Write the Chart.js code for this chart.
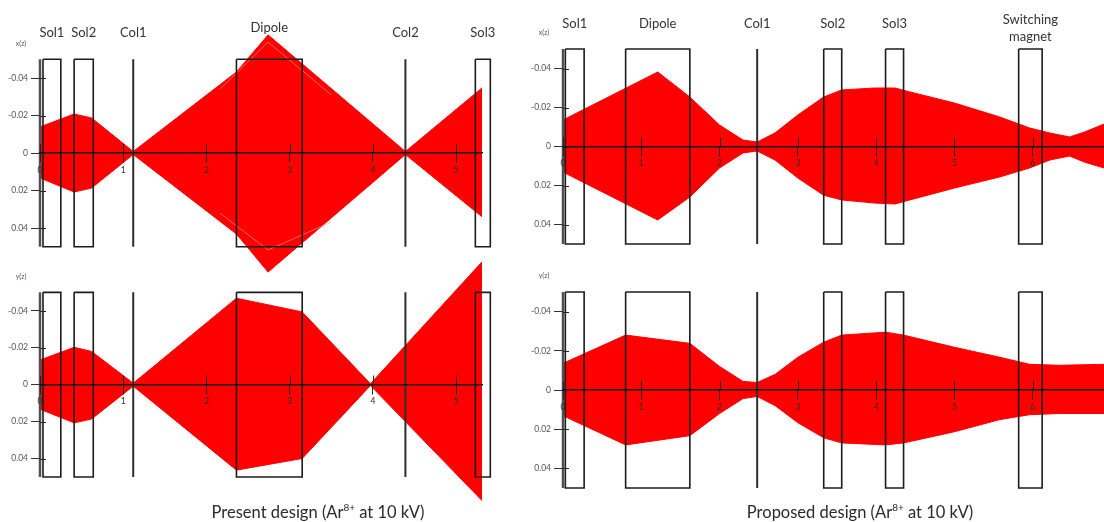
<!DOCTYPE html>
<html>
<head>
<meta charset="utf-8">
<script src="https://cdn.jsdelivr.net/npm/chart.js@4.4.1/dist/chart.umd.min.js"></script>
<style>
  html, body { margin: 0; padding: 0; background: #fff; }
  #wrap { position: relative; width: 1104px; height: 522px; overflow: hidden; font-family: Lato, "Open Sans", sans-serif; }
  #wrap canvas { position: absolute; left: 0; top: 0; }
  .caption { position: absolute; top: 502px; line-height: 20px; font-size: 16.5px; color: #2a2a2a; white-space: nowrap; transform: translateX(-50%); }
  .caption sup { font-size: 10px; line-height: 0; vertical-align: 7px; }
</style>
</head>
<body>
<div id="wrap">
  <canvas id="xPresent" width="1104" height="522"></canvas>
  <canvas id="yPresent" width="1104" height="522"></canvas>
  <canvas id="xProposed" width="1104" height="522"></canvas>
  <canvas id="yProposed" width="1104" height="522"></canvas>
  <div class="caption" style="left:318px">Present design (Ar<sup>8+</sup> at 10 kV)</div>
  <div class="caption" style="left:860px">Proposed design (Ar<sup>8+</sup> at 10 kV)</div>
</div>
<script>
// ---- Beam envelopes (z in m, transverse edges in m) ----
// Present design, horizontal plane
const presentXz     = [0, 0.41, 0.62, 1.12, 2.36, 2.74, 4.39, 5.31];
const presentXUpper = [-0.0139, -0.0208, -0.0187, -0.0008, -0.0432, -0.0630, -0.0008, -0.0347];
const presentXLower = [0.0133, 0.0208, 0.0187, 0.0008, 0.0432, 0.0635, 0.0008, 0.0340];
// inner trajectory traces inside the dipole
const presentXInnerZ     = [2.16, 2.74, 3.50];
const presentXInnerUpper = [-0.0340, -0.0592, -0.0310];
const presentXInnerLower = [0.0320, 0.0517, 0.0368];

// Present design, vertical plane
const presentYz     = [0, 0.41, 0.62, 1.12, 2.36, 3.15, 3.97, 5.31];
const presentYUpper = [-0.0133, -0.0202, -0.0180, -0.0008, -0.0468, -0.0394, -0.0005, -0.0665];
const presentYLower = [0.0133, 0.0207, 0.0186, 0.0008, 0.0463, 0.0400, 0.0005, 0.0628];

// Proposed design, horizontal plane
const proposedXz     = [0, 1.21, 1.62, 2.00, 2.30, 2.48, 2.71, 3.00, 3.33, 3.56, 3.98, 4.24, 4.43, 5.00, 5.58, 5.96, 6.22, 6.47, 6.66, 6.91];
const proposedXUpper = [-0.0136, -0.0382, -0.0254, -0.0110, -0.0033, -0.0023, -0.0070, -0.0162, -0.0254, -0.0290, -0.0300, -0.0300, -0.0280, -0.0223, -0.0151, -0.0095, -0.0069, -0.0049, -0.0074, -0.0115];
const proposedXLower = [0.0131, 0.0377, 0.0259, 0.0110, 0.0033, 0.0023, 0.0070, 0.0162, 0.0250, 0.0274, 0.0290, 0.0295, 0.0274, 0.0213, 0.0156, 0.0110, 0.0069, 0.0049, 0.0080, 0.0110];

// Proposed design, vertical plane
const proposedYz     = [0, 0.80, 1.62, 2.00, 2.30, 2.48, 2.71, 3.00, 3.33, 3.56, 4.12, 4.35, 5.00, 5.58, 5.96, 6.34, 6.91];
const proposedYUpper = [-0.0136, -0.0280, -0.0238, -0.0120, -0.0044, -0.0038, -0.0080, -0.0167, -0.0244, -0.0280, -0.0295, -0.0280, -0.0218, -0.0167, -0.0131, -0.0126, -0.0131];
const proposedYLower = [0.0131, 0.0280, 0.0233, 0.0120, 0.0044, 0.0033, 0.0080, 0.0167, 0.0244, 0.0270, 0.0280, 0.0270, 0.0213, 0.0151, 0.0126, 0.0120, 0.0120];

// ---- Beamline elements (start / end in m; end null = collimator plane) ----
const presentNames  = ['Sol1', 'Sol2', 'Col1', 'Dipole', 'Col2', 'Sol3'];
const presentStart  = [0.036, 0.41, 1.12, 2.36, 4.39, 5.23];
const presentEnd    = [0.25, 0.64, null, 3.15, null, 5.41];

const proposedNames = ['Sol1', 'Dipole', 'Col1', 'Sol2', 'Sol3', 'Switching\nmagnet'];
const proposedStart = [0.03, 0.80, 2.48, 3.33, 4.12, 5.82];
const proposedEnd   = [0.27, 1.62, null, 3.56, 4.35, 6.12];

const apertureHalf = 0.05;

// ---- Tick values ----
const yTicks         = [-0.04, -0.02, 0, 0.02, 0.04];
const presentZTicks  = [0, 1, 2, 3, 4, 5];
const proposedZTicks = [0, 1, 2, 3, 4, 5, 6];

// ---- Drawing ----
const W = 1104, H = 522;
const RED = '#ff0000';
const TRACE = 'rgba(255, 165, 165, 0.6)';
const FONT = 'Lato, "Open Sans", sans-serif';
const Y_AXIS_W = 38;

// Draws the vertical axis over the aperture, the inner halves of the tick marks,
// element names and the axis name.
const beamlinePlugin = {
  id: 'beamline',
  afterDatasetsDraw(chart, args, o) {
    const { ctx, chartArea, scales: { x, y } } = chart;
    const yTop = y.getPixelForValue(-apertureHalf);
    const yBot = y.getPixelForValue(apertureHalf);
    const y0 = y.getPixelForValue(0);
    ctx.save();
    ctx.strokeStyle = '#505050';
    ctx.lineWidth = 2.5;
    ctx.beginPath();
    ctx.moveTo(chartArea.left, yTop);
    ctx.lineTo(chartArea.left, yBot);
    ctx.stroke();
    ctx.strokeStyle = '#222';
    ctx.lineWidth = 1;
    x.ticks.forEach(t => {
      const px = Math.round(x.getPixelForValue(t.value)) + 0.5;
      ctx.beginPath();
      ctx.moveTo(px, y0 - o.xTickIn);
      ctx.lineTo(px, y0);
      ctx.stroke();
    });
    y.ticks.forEach(t => {
      const py = Math.round(y.getPixelForValue(t.value)) + 0.5;
      ctx.beginPath();
      ctx.moveTo(chartArea.left, py);
      ctx.lineTo(chartArea.left + o.yTickIn, py);
      ctx.stroke();
    });
    ctx.restore();
  },
  afterDraw(chart, args, o) {
    const { ctx, chartArea, scales: { x, y } } = chart;
    const yTop = y.getPixelForValue(-apertureHalf);
    ctx.save();
    ctx.textAlign = 'center';
    ctx.textBaseline = 'middle';
    if (o.showNames) {
      ctx.fillStyle = '#333';
      ctx.font = '13px ' + FONT;
      o.names.forEach((name, i) => {
        const s = o.start[i], e = o.end[i];
        const cx = x.getPixelForValue(e === null ? s : (s + e) / 2);
        const lines = name.split('\n');
        const rise = o.rise[i];
        lines.forEach((ln, k) => {
          const r = Array.isArray(rise) ? rise[k] : rise;
          ctx.fillText(ln, cx, yTop - r);
        });
      });
    }
    ctx.fillStyle = '#555';
    ctx.font = '7px ' + FONT;
    ctx.fillText(o.axisName, chartArea.left - 19, yTop - 16);
    ctx.restore();
  }
};

function lineSet(label, zs, vs, color, width, order) {
  return {
    label, data: zs.map((z, i) => ({ x: z, y: vs[i] })),
    fill: false, borderColor: color, borderWidth: width,
    pointRadius: 0, tension: 0, clip: false, order
  };
}

function buildPanel(p) {
  const f = p.frame;
  const top = f.zero - f.lim * f.ppu;
  const bottom = f.zero + f.lim * f.ppu;
  const datasets = [];

  p.names.forEach((name, i) => {
    const s = p.start[i], e = p.end[i];
    const pts = e === null
      ? [{ x: s, y: -apertureHalf }, { x: s, y: apertureHalf }]
      : [{ x: s, y: -apertureHalf }, { x: e, y: -apertureHalf }, { x: e, y: apertureHalf },
         { x: s, y: apertureHalf }, { x: s, y: -apertureHalf }];
    datasets.push({
      label: name, data: pts,
      borderColor: e === null ? '#2e2e2e' : '#1c1c1c',
      borderWidth: e === null ? 2 : 1.6,
      borderJoinStyle: 'miter',
      pointRadius: 0, fill: false, tension: 0, clip: false, order: 1
    });
  });

  (p.traces || []).forEach(t => {
    datasets.push(lineSet('trace', t.z, t.v, TRACE, 1, 2));
  });

  const upper = lineSet('envelope', p.z, p.upper, RED, 1, 3);
  upper.fill = '+1';
  upper.backgroundColor = RED;
  datasets.push(upper);
  datasets.push(lineSet('envelope lower', p.z, p.lower, RED, 1, 3));

  new Chart(document.getElementById(p.id), {
    type: 'line',
    data: { datasets },
    plugins: [beamlinePlugin],
    options: {
      responsive: false,
      devicePixelRatio: 1,
      animation: false,
      events: [],
      layout: { padding: { left: f.left - Y_AXIS_W, right: W - f.right, top: top, bottom: H - bottom } },
      plugins: {
        legend: { display: false },
        tooltip: { enabled: false },
        beamline: {
          names: p.names, start: p.start, end: p.end, rise: p.rise,
          showNames: p.showNames, axisName: p.axisName, xTickIn: 9, yTickIn: 6
        }
      },
      scales: {
        x: {
          type: 'linear',
          min: 0, max: p.zMax,
          position: { y: 0 },
          afterBuildTicks: s => { s.ticks = p.zTicks.map(v => ({ value: v })); },
          ticks: {
            z: 2, autoSkip: false, maxRotation: 0, padding: 3, color: '#2a2a2a',
            font: { family: FONT, size: 8.5 },
            callback: v => String(v)
          },
          grid: { z: 1, display: true, drawOnChartArea: false, drawTicks: true, tickLength: 9, color: '#222', lineWidth: 1 },
          border: { z: 1, display: true, color: '#151515', width: 1.5 }
        },
        y: {
          type: 'linear',
          reverse: true,
          min: -f.lim, max: f.lim,
          position: 'left',
          afterBuildTicks: s => { s.ticks = yTicks.map(v => ({ value: v })); },
          afterFit: s => { s.width = Y_AXIS_W; },
          ticks: {
            z: 2, padding: 3, color: '#555',
            font: { family: FONT, size: 8.5 },
            callback: v => (v === 0 ? '0' : v.toFixed(2))
          },
          grid: { z: 1, display: true, drawOnChartArea: false, drawTicks: true, tickLength: 9, color: '#333', lineWidth: 1 },
          border: { display: false }
        }
      }
    }
  });
}

const panels = [
  { id: 'xPresent', z: presentXz, upper: presentXUpper, lower: presentXLower,
    traces: [{ z: presentXInnerZ, v: presentXInnerUpper }, { z: presentXInnerZ, v: presentXInnerLower }],
    names: presentNames, start: presentStart, end: presentEnd, zTicks: presentZTicks,
    zMax: 5.31, axisName: 'x(z)', showNames: true, rise: [26, 26, 26, 31, 26, 26],
    frame: { left: 40, right: 482, zero: 153, ppu: 1875, lim: 0.07 } },
  { id: 'yPresent', z: presentYz, upper: presentYUpper, lower: presentYLower,
    names: presentNames, start: presentStart, end: presentEnd, zTicks: presentZTicks,
    zMax: 5.31, axisName: 'y(z)', showNames: false, rise: [],
    frame: { left: 40, right: 482, zero: 387, ppu: 1880, lim: 0.07 } },
  { id: 'xProposed', z: proposedXz, upper: proposedXUpper, lower: proposedXLower,
    names: proposedNames, start: proposedStart, end: proposedEnd, zTicks: proposedZTicks,
    zMax: 6.91, axisName: 'x(z)', showNames: true, rise: [25, 25, 25, 25, 25, [29, 12]],
    frame: { left: 563, right: 1104, zero: 146.5, ppu: 1950, lim: 0.06 } },
  { id: 'yProposed', z: proposedYz, upper: proposedYUpper, lower: proposedYLower,
    names: proposedNames, start: proposedStart, end: proposedEnd, zTicks: proposedZTicks,
    zMax: 6.91, axisName: 'y(z)', showNames: false, rise: [],
    frame: { left: 563, right: 1104, zero: 390, ppu: 1960, lim: 0.06 } }
];

panels.forEach(buildPanel);
</script>
</body>
</html>
